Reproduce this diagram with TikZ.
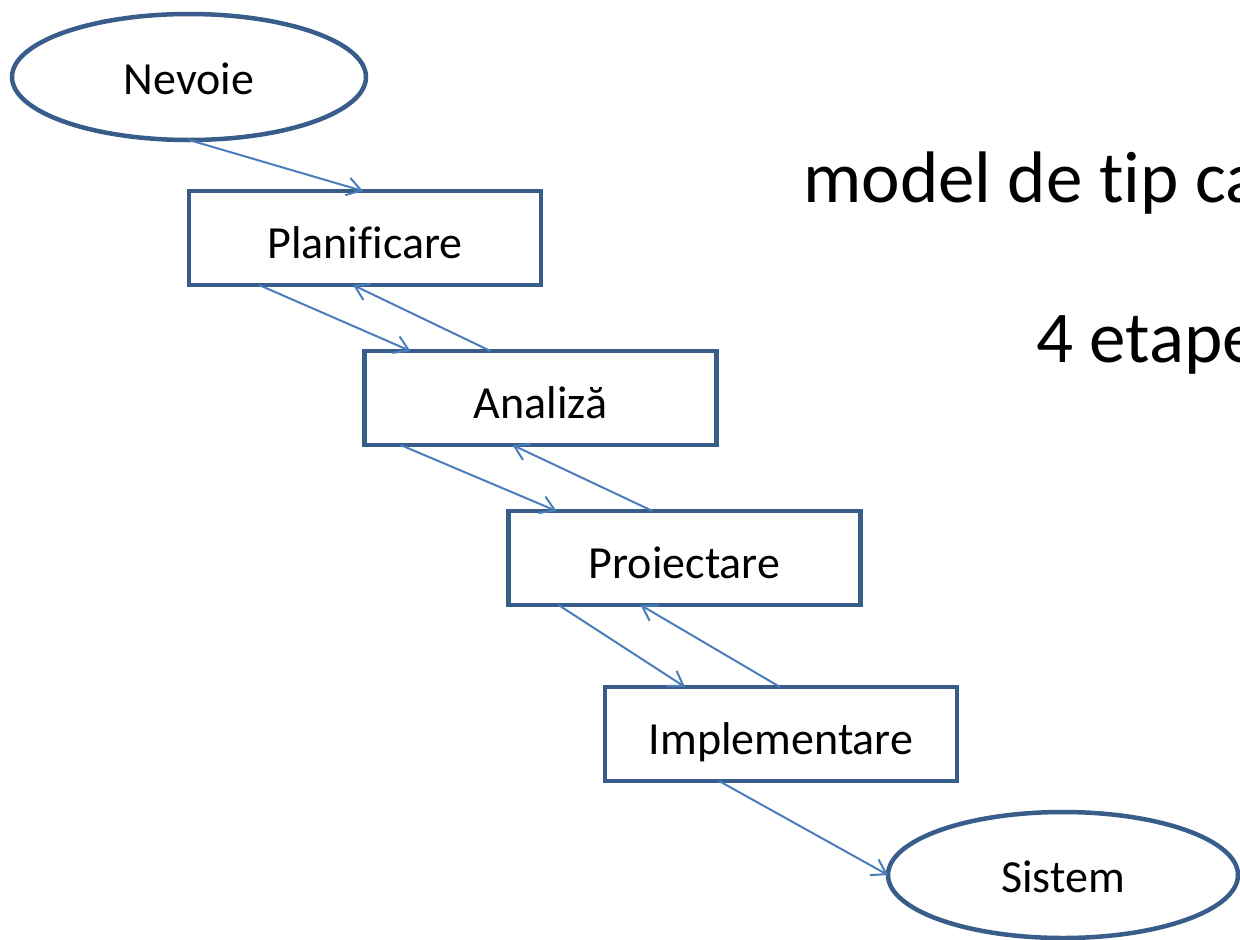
\documentclass[tikz,border=0pt]{standalone}
\usepackage{fontspec}
\setmainfont{Carlito}[Ligatures={NoCommon}]
\usetikzlibrary{shapes.geometric,arrows.meta}

\definecolor{shapeline}{HTML}{385D8A}
\definecolor{flowline}{HTML}{4A7EBB}

\tikzset{
  stagebox/.style={draw=shapeline, line width=4.5pt, fill=white, rectangle,
    minimum width=352pt, minimum height=94pt, outer sep=0pt, inner sep=0pt,
    font=\fontsize{46}{55}\selectfont, text height=40pt, text depth=0pt},
  endpoint/.style={draw=shapeline, line width=4.5pt, fill=white, ellipse,
    minimum width=352pt, minimum height=126pt, outer sep=0pt, inner sep=0pt,
    font=\fontsize{46}{55}\selectfont, text height=34pt, text depth=0pt},
  flow/.style={draw=flowline, line width=2pt,
    -{Straight Barb[length=14pt,width=18pt,line width=2pt]}},
  caption/.style={anchor=base west, inner sep=0pt,
    font=\fontsize{73}{88}\selectfont}
}

\begin{document}
\begin{tikzpicture}[x=1pt,y=-1pt]
  \useasboundingbox (0,0) rectangle (1240,940);
  \clip (0,0) rectangle (1240,940);

  % stages of the process
  \node[endpoint, minimum width=354pt] (need) at (189,77) {Nevoie};
  \node[stagebox] (plan) at (365,238) {Planificare};
  \node[stagebox] (anal) at (540.5,398) {Analiză};
  \node[stagebox] (proj) at (684.5,558) {Proiectare};
  \node[stagebox] (impl) at (781,734) {Implementare};
  \node[endpoint, minimum width=350pt] (syst) at (1063,875) {Sistem};

  % forward flow
  \draw[flow] (need.south) -- ([xshift=-2pt]plan.north);
  \draw[flow] ([xshift=70pt]plan.south west) -- ([xshift=46pt]anal.north west);
  \draw[flow] ([xshift=36pt]anal.south west) -- ([xshift=48pt]proj.north west);
  \draw[flow] ([xshift=50pt]proj.south west) -- ([xshift=80pt]impl.north west);
  \draw[flow] ([xshift=114pt]impl.south west) -- (syst.west);

  % feedback to the previous stage
  \draw[flow] ([xshift=126pt]anal.north west) -- ([xshift=164pt]plan.south west);
  \draw[flow] ([xshift=144pt]proj.north west) -- ([xshift=148pt]anal.south west);
  \draw[flow] ([xshift=175pt]impl.north west) -- ([xshift=132pt]proj.south west);

  % side captions, running past the right edge
  \node[caption] (title) at (803,202) {model de tip ca};
  \node[caption] (steps) at (1036,362) {4 etape};
\end{tikzpicture}
\end{document}
